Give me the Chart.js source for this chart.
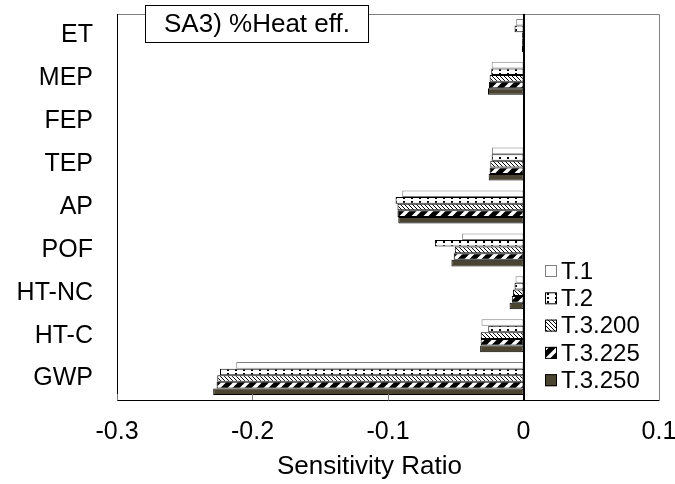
<!DOCTYPE html>
<html>
<head>
<meta charset="utf-8">
<script src="https://cdn.jsdelivr.net/npm/chart.js@4.4.1/dist/chart.umd.min.js"></script>
<style>
  html, body { margin: 0; padding: 0; background: #fff; }
  #wrap { width: 675px; height: 484px; }
</style>
</head>
<body>
<div id="wrap"><canvas id="saChart" width="675" height="484"></canvas></div>
<script>
const categories = ['ET', 'MEP', 'FEP', 'TEP', 'AP', 'POF', 'HT-NC', 'HT-C', 'GWP'];
const seriesNames = ['T.1', 'T.2', 'T.3.200', 'T.3.225', 'T.3.250'];
const t1     = [-0.0054, -0.0235, -0.0005, -0.0233, -0.0895, -0.0453, -0.0059, -0.0310, -0.2120];
const t2     = [-0.0066, -0.0238, -0.0005, -0.0235, -0.0944, -0.0654, -0.0066, -0.0260, -0.2240];
const t3_200 = [-0.0010, -0.0250, -0.0005, -0.0245, -0.0930, -0.0507, -0.0078, -0.0316, -0.2260];
const t3_225 = [-0.0010, -0.0255, -0.0005, -0.0250, -0.0930, -0.0515, -0.0086, -0.0316, -0.2265];
const t3_250 = [-0.0012, -0.0262, -0.0005, -0.0257, -0.0924, -0.0532, -0.0103, -0.0320, -0.2290];
const xTicks = [-0.3, -0.2, -0.1, 0, 0.1];
const chartTitle = 'SA3) %Heat eff.';
const xTitle = 'Sensitivity Ratio';

const FONT = '"Liberation Sans", Arial, sans-serif';

function tile(w, h, draw) {
    const c = document.createElement('canvas');
    c.width = w; c.height = h;
    const g = c.getContext('2d');
    g.fillStyle = '#fff';
    g.fillRect(0, 0, w, h);
    draw(g);
    return document.getElementById('saChart').getContext('2d').createPattern(c, 'repeat');
}

const dots = tile(8, 4, function(g) {
    g.fillStyle = '#000';
    g.fillRect(3, 1, 2, 2);
});
const fineHatch = tile(4, 4, function(g) {
    g.strokeStyle = '#000';
    g.lineWidth = 1;
    g.beginPath();
    g.moveTo(-1, -1); g.lineTo(5, 5);
    g.moveTo(-1, 3); g.lineTo(1, 5);
    g.moveTo(3, -1); g.lineTo(5, 1);
    g.stroke();
});
const thickStripe = tile(12, 12, function(g) {
    g.strokeStyle = '#000';
    g.lineWidth = 5;
    g.beginPath();
    g.moveTo(0, 12); g.lineTo(12, 0);
    g.moveTo(-6, 6); g.lineTo(6, -6);
    g.moveTo(6, 18); g.lineTo(18, 6);
    g.stroke();
});

const fills = ['#ffffff', dots, fineHatch, thickStripe, '#4b4430'];
const borders = ['#808080', '#000', '#000', '#000', '#000'];
const values = [t1, t2, t3_200, t3_225, t3_250];

const framePlugin = {
    id: 'frame',
    afterDraw(chart) {
        const {ctx, chartArea: a, scales: {x}} = chart;
        ctx.save();
        // frame
        ctx.lineWidth = 1;
        ctx.strokeStyle = '#808080';
        ctx.beginPath();
        ctx.moveTo(a.left, a.top + 0.5); ctx.lineTo(a.right + 0.5, a.top + 0.5);
        ctx.lineTo(a.right + 0.5, a.bottom);
        ctx.stroke();
        ctx.strokeStyle = '#000';
        ctx.beginPath();
        ctx.moveTo(a.left + 0.5, a.top); ctx.lineTo(a.left + 0.5, a.bottom + 0.5);
        ctx.lineTo(a.right + 0.5, a.bottom + 0.5);
        ctx.stroke();
        // inward ticks
        ctx.strokeStyle = '#808080';
        ctx.beginPath();
        xTicks.forEach(function(v) {
            const px = Math.round(x.getPixelForValue(v)) + 0.5;
            ctx.moveTo(px, a.bottom); ctx.lineTo(px, a.bottom - 6);
        });
        ctx.stroke();
        // zero line
        const z = Math.round(x.getPixelForValue(0));
        ctx.strokeStyle = '#000';
        ctx.lineWidth = 2;
        ctx.beginPath();
        ctx.moveTo(z, a.top); ctx.lineTo(z, a.bottom + 1);
        ctx.stroke();

        // legend
        ctx.fillStyle = '#fff';
        ctx.fillRect(z + 12, 256, a.right - z - 14, 140);
        ctx.font = '24px ' + FONT;
        ctx.textBaseline = 'middle';
        ctx.textAlign = 'left';
        chart.data.datasets.forEach(function(ds, i) {
            const cy = 271 + i * 27.3;
            ctx.fillStyle = ds.backgroundColor;
            ctx.fillRect(545, cy - 6, 12, 12);
            ctx.lineWidth = 1;
            ctx.strokeStyle = ds.borderColor;
            ctx.strokeRect(545.5, cy - 5.5, 11, 11);
            ctx.fillStyle = '#000';
            ctx.fillText(ds.label, 561, cy + 1);
        });

        // axis title
        ctx.font = '26px ' + FONT;
        ctx.textAlign = 'center';
        ctx.fillText(xTitle, 369.5, 467);

        // title box
        ctx.fillStyle = '#fff';
        ctx.fillRect(145, 5, 224, 38);
        ctx.strokeStyle = '#000';
        ctx.lineWidth = 1;
        ctx.strokeRect(145.5, 5.5, 223, 37);
        ctx.fillStyle = '#000';
        ctx.fillText(chartTitle, 257, 25);
        ctx.restore();
    }
};

document.addEventListener('DOMContentLoaded', function() {
    const ctx = document.getElementById('saChart').getContext('2d');
    new Chart(ctx, {
        type: 'bar',
        data: {
            labels: categories,
            datasets: seriesNames.map(function(name, i) {
                return {
                    label: name,
                    data: values[i],
                    backgroundColor: fills[i],
                    borderColor: borders[i],
                    borderWidth: 1,
                    borderSkipped: false,
                    categoryPercentage: 0.77,
                    barPercentage: 1.0
                };
            })
        },
        options: {
            indexAxis: 'y',
            responsive: false,
            animation: false,
            layout: { padding: { top: 14, right: 16, left: 0, bottom: 0 } },
            plugins: {
                legend: { display: false },
                tooltip: { enabled: false }
            },
            scales: {
                x: {
                    min: -0.3,
                    max: 0.1,
                    afterFit: function(s) {
                        s.height = 84;
                        s.paddingLeft = 0; s.paddingRight = 0;
                        s.paddingTop = 0; s.paddingBottom = 0;
                    },
                    afterBuildTicks: function(s) { s.ticks = xTicks.map(function(v) { return { value: v }; }); },
                    ticks: {
                        color: '#000',
                        padding: 17,
                        maxRotation: 0,
                        font: { family: FONT, size: 25 },
                        callback: function(v) { return String(Math.round(v * 10) / 10); }
                    },
                    grid: { display: false, drawTicks: false },
                    border: { display: false }
                },
                y: {
                    afterFit: function(s) {
                        s.width = 117;
                        s.paddingLeft = 0; s.paddingRight = 0;
                        s.paddingTop = 0; s.paddingBottom = 0;
                    },
                    ticks: {
                        color: '#000',
                        padding: 24,
                        font: { family: FONT, size: 25 }
                    },
                    grid: { display: false, drawTicks: false },
                    border: { display: false }
                }
            }
        },
        plugins: [framePlugin]
    });
});
</script>
</body>
</html>
